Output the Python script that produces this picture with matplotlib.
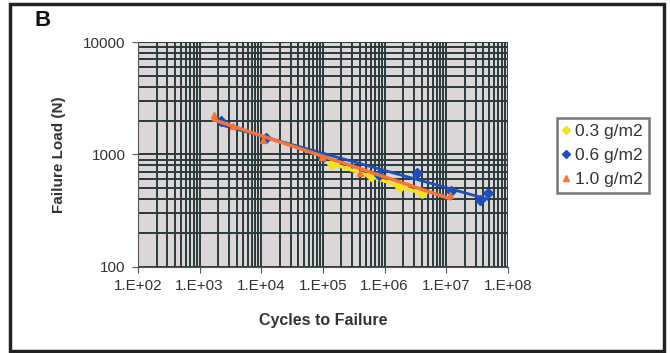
import math
import matplotlib
matplotlib.use("Agg")
import matplotlib.pyplot as plt
import matplotlib.ticker as mticker
import numpy as np
from matplotlib.patches import Rectangle

plt.rcParams["font.family"] = ["Liberation Sans", "DejaVu Sans"]

# fatigue data: cycles to failure vs failure load (N)
cycles_03 = [1.4e5, 6.0e5, 1.8e6, 4.0e6]
load_03 = [830, 640, 510, 455]

cycles_06 = [2.2e3, 1.2e4, 1.0e5, 8.0e5, 3.3e6, 1.2e7, 3.5e7, 4.7e7]
load_06 = [2000, 1400, 950, 650, 690, 470, 390, 450]

cycles_10 = [1.7e3, 3.5e3, 1.07e4, 9.5e4, 4.0e5, 1.15e7]
load_10 = [2240, 1790, 1345, 950, 686, 437]

labels = ["0.3 g/m2", "0.6 g/m2", "1.0 g/m2"]
colors = ["#f2e21a", "#1c4fb8", "#f5743a"]
markers = ["D", "D", "^"]


def power_trend(x, y):
    # power-law trendline (straight in log-log) over the data range
    k, c = np.polyfit(np.log10(x), np.log10(y), 1)
    xs = np.array([min(x), max(x)])
    return xs, 10 ** (c + k * np.log10(xs))


fig = plt.figure(figsize=(6.7, 3.53), dpi=100)
ax = fig.add_axes([0.206, 0.244, 0.552, 0.637])
ax.set_facecolor("#dcd6d6")

ax.set_xscale("log")
ax.set_yscale("log")
ax.set_xlim(1e2, 1e8)
ax.set_ylim(100, 10000)

ax.xaxis.set_major_locator(mticker.LogLocator(base=10, numticks=10))
ax.xaxis.set_minor_locator(mticker.LogLocator(base=10, subs=range(2, 10), numticks=100))
ax.yaxis.set_major_locator(mticker.LogLocator(base=10, numticks=10))
ax.yaxis.set_minor_locator(mticker.LogLocator(base=10, subs=range(2, 10), numticks=100))
ax.xaxis.set_major_formatter(mticker.FuncFormatter(lambda v, p: "1.E+%02d" % round(math.log10(v))))
ax.yaxis.set_major_formatter(mticker.FuncFormatter(lambda v, p: "%d" % v))
ax.yaxis.set_minor_formatter(mticker.NullFormatter())
ax.xaxis.set_minor_formatter(mticker.NullFormatter())

ax.grid(True, which="both", color="#2a393b", linewidth=1.4)
ax.set_axisbelow(True)
for s in ["top", "right"]:
    ax.spines[s].set_visible(False)
ax.spines["left"].set_color("#555555")
ax.spines["bottom"].set_color("#555555")
ax.tick_params(which="minor", length=0)
ax.tick_params(which="major", length=4, color="#555555", labelsize=11, labelcolor="#333333", pad=5)

series = [(cycles_03, load_03), (cycles_06, load_06), (cycles_10, load_10)]
for i, (cx, ly) in enumerate(series):
    tx, ty = power_trend(cx, ly)
    ax.plot(tx, ty, "-", color=colors[i], lw=2.5 if i != 1 else 2.0, zorder=3 + i)
    ax.plot(cx, ly, linestyle="none", color=colors[i], marker=markers[i], ms=5,
            label=labels[i], zorder=3 + i)

ax.set_xlabel("Cycles to Failure", fontsize=11.5, fontweight="bold", color="#333333", labelpad=14)
ax.set_ylabel("Failure Load (N)", fontsize=11, fontweight="bold", color="#333333", labelpad=12)

leg = fig.legend(loc="upper left", bbox_to_anchor=(0.818, 0.69), fontsize=12.5,
                 frameon=True, fancybox=False, edgecolor="#555555", handlelength=0.4,
                 handletextpad=0.3, borderpad=0.35, labelspacing=0.5, markerscale=0.9)
leg.get_frame().set_linewidth(1.8)
for t in leg.get_texts():
    t.set_color("#333333")

fig.text(0.052, 0.925, "B", fontsize=16, fontweight="bold", color="#111111")
fig.patches.append(Rectangle((0.015, 0.006), 0.976, 0.984, transform=fig.transFigure,
                             fill=False, edgecolor="#222222", linewidth=2.5))

fig.savefig("out.png", dpi=100)
